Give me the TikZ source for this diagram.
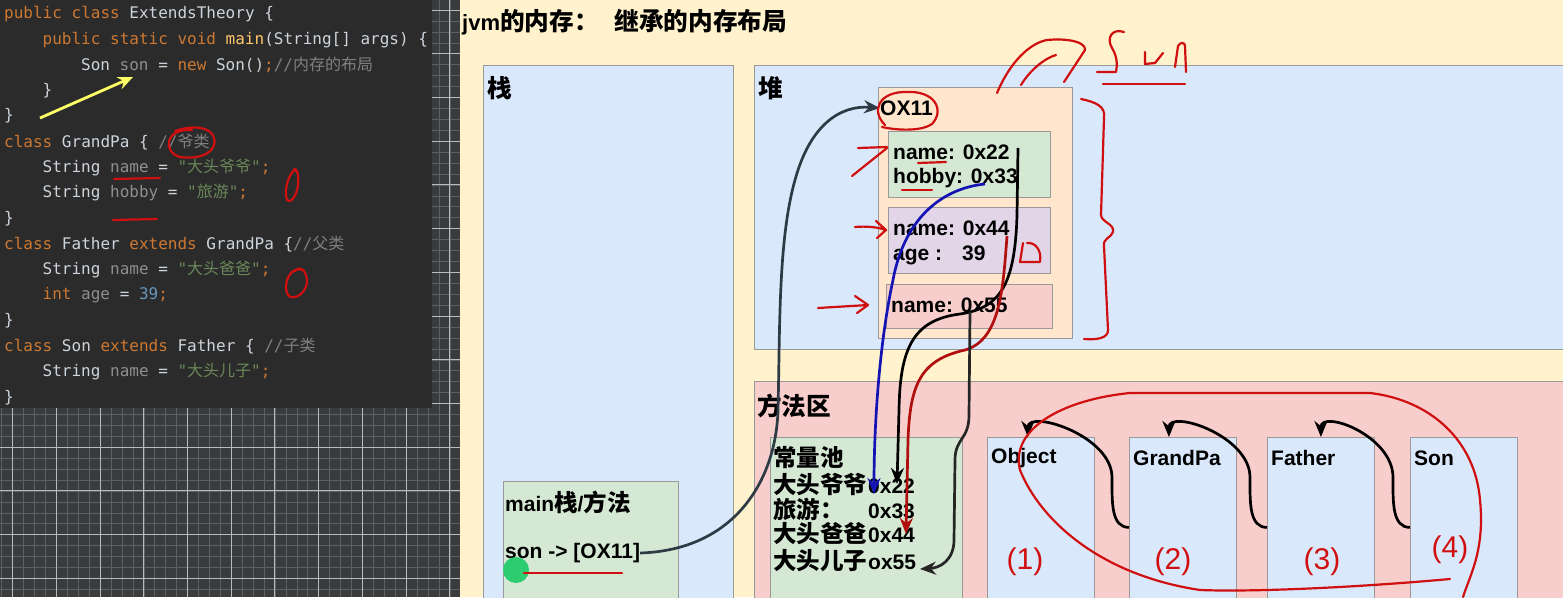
\documentclass[tikz,border=0pt]{standalone}
\usepackage{fontspec}
\setmainfont{Liberation Sans}
\setmonofont{DejaVu Sans Mono}
\newfontfamily\cjk[Scale=1.12]{Noto Sans CJK SC}
\newfontfamily\cjkcode{Noto Sans CJK SC}
\usepackage{xcolor}
\usetikzlibrary{arrows.meta,positioning}

\definecolor{codebg}{HTML}{2B2B2B}
\definecolor{gridbg}{HTML}{3A3B3D}
\definecolor{gridminor}{HTML}{5E6063}
\definecolor{gridmajor}{HTML}{B8BABC}
\definecolor{jplain}{HTML}{CDD4DB}
\definecolor{jkwc}{HTML}{CC7832}
\definecolor{jfldc}{HTML}{8E8E8E}
\definecolor{jfnc}{HTML}{FFC66D}
\definecolor{jstrc}{HTML}{6A8759}
\definecolor{jcmtc}{HTML}{808080}
\definecolor{jnumc}{HTML}{6897BB}
\definecolor{yellowR}{HTML}{FFF2CC}
\definecolor{blueR}{HTML}{DAE8FC}
\definecolor{pinkR}{HTML}{F8CECC}
\definecolor{orangeR}{HTML}{FFE6CC}
\definecolor{greenR}{HTML}{D5E8D4}
\definecolor{purpleR}{HTML}{E1D5E7}
\definecolor{slate}{HTML}{2E3A44}
\definecolor{ink}{HTML}{D01010}
\definecolor{inkblue}{HTML}{1414B4}
\definecolor{penyellow}{HTML}{FFFF66}
\definecolor{dotgreen}{HTML}{2ECC71}

\newcommand{\zh}[1]{{\cjk #1}}
\newcommand{\zc}[1]{{\cjkcode #1}}
\newcommand{\jkw}[1]{\textcolor{jkwc}{#1}}
\newcommand{\jfld}[1]{\textcolor{jfldc}{#1}}
\newcommand{\jfn}[1]{\textcolor{jfnc}{#1}}
\newcommand{\jstr}[1]{\textcolor{jstrc}{#1}}
\newcommand{\jcmt}[1]{\textcolor{jcmtc}{#1}}
\newcommand{\jnum}[1]{\textcolor{jnumc}{#1}}

\begin{document}
\begin{tikzpicture}[x=1pt, y=-1pt,
  region/.style={draw=black!40, line width=0.8pt, anchor=north west, inner sep=0pt},
  lbl/.style={font=\bfseries\fontsize{21}{25}\selectfont, anchor=west, inner sep=0pt},
  head/.style={font=\bfseries\fontsize{22}{26}\selectfont, anchor=west, inner sep=0pt},
  code/.style={font=\ttfamily\fontsize{16}{19}\selectfont, anchor=west, inner sep=0pt, text=jplain},
  link/.style={-{Stealth[length=16pt,width=13pt]}, line width=2.7pt},
  hand/.style={draw=ink, line width=2.2pt, line cap=round, line join=round},
  handtxt/.style={text=ink, font=\fontsize{30}{30}\selectfont, inner sep=0pt}
]
\useasboundingbox (0,0) rectangle (1563,597);

% editor side
\fill[gridbg] (0,0) rectangle (460,597);
\foreach \k in {0,...,42} \draw[gridminor, line width=0.5pt] ({1.67+10.93*\k},0) -- ++(0,597);
\foreach \k in {0,...,54} \draw[gridminor, line width=0.5pt] (0,{10+10.93*\k}) -- ++(460,0);
\foreach \k in {0,...,10} \draw[gridmajor, line width=0.7pt] ({12.6+43.7*\k},0) -- ++(0,597);
\foreach \k in {0,...,13} \draw[gridmajor, line width=0.7pt] (0,{10+43.7*\k}) -- ++(460,0);
\fill[codebg] (0,0) rectangle (432,408);

\node[code] (ln1) at (4,14) {\jkw{public class} ExtendsTheory \{};
\node[code] (ln2) at (42.5,39.6) {\jkw{public static void} \jfn{main}(String[] args) \{};
\node[code] (ln3) at (81,65.1) {Son \jfld{son} = \jkw{new} Son()\jkw{;}\jcmt{//\zc{内存的布局}}};
\node[code] (ln4) at (42.5,90.7) {\}};
\node[code] (ln5) at (4,116.2) {\}};
\node[code] (ln6) at (4,141.8) {\jkw{class} GrandPa \{ \jcmt{//\zc{爷类}}};
\node[code] (ln7) at (42.5,167.3) {String \jfld{name} = \jstr{"\zc{大头爷爷}"}\jkw{;}};
\node[code] (ln8) at (42.5,192.9) {String \jfld{hobby} = \jstr{"\zc{旅游}"}\jkw{;}};
\node[code] (ln9) at (4,218.4) {\}};
\node[code] (ln10) at (4,244) {\jkw{class} Father \jkw{extends} GrandPa \{\jcmt{//\zc{父类}}};
\node[code] (ln11) at (42.5,269.5) {String \jfld{name} = \jstr{"\zc{大头爸爸}"}\jkw{;}};
\node[code] (ln12) at (42.5,295.1) {\jkw{int} \jfld{age} = \jnum{39}\jkw{;}};
\node[code] (ln13) at (4,320.6) {\}};
\node[code] (ln14) at (4,346.2) {\jkw{class} Son \jkw{extends} Father \{ \jcmt{//\zc{子类}}};
\node[code] (ln15) at (42.5,371.8) {String \jfld{name} = \jstr{"\zc{大头儿子}"}\jkw{;}};
\node[code] (ln16) at (4,397.3) {\}};

\coordinate (ytail) at (40,118);
\coordinate (yhead) at (133,77);
\draw[penyellow, line width=2.8pt, -{Stealth[length=15pt,width=13pt]}] (ytail) -- (yhead);

% marks on the code
\draw[hand] (192,130) .. controls (165,128) and (162,152) .. (180,157) .. controls (200,160) and (218,152) .. (214,138) .. controls (212,128) and (195,124) .. (175,131);
\draw[hand] (114,179) -- (160,178);
\draw[hand] (113,220) -- (157,219);
\draw[hand] (296,170) .. controls (290,170) and (283,190) .. (287,200) .. controls (292,205) and (300,190) .. (298,176) .. controls (297,168) and (294,167) .. (293,172);
\draw[hand] (303,270) .. controls (290,265) and (282,285) .. (288,295) .. controls (294,302) and (308,292) .. (307,280) .. controls (306,268) and (298,266) .. (295,271);

% memory side
\fill[yellowR] (460,0) rectangle (1563,597);
\node[head] (title) at (462,22) {jvm\zh{的内存：}\hspace{16pt}\zh{继承的内存布局}};

\node[region, fill=blueR, minimum width=250pt, minimum height=545pt] (stack) at (483,65) {};
\node[head] (stacklbl) at (487,88) {\zh{栈}};
\node[region, fill=blueR, minimum width=830pt, minimum height=284pt] (heap) at (754,65) {};
\node[head] (heaplbl) at (758,88) {\zh{堆}};
\node[region, fill=pinkR, minimum width=830pt, minimum height=240pt] (method) at (754,381) {};
\node[head] (methodlbl) at (757,406) {\zh{方法区}};

% son object in the heap
\node[region, fill=orangeR, minimum width=194pt, minimum height=251pt] (sonobj) at (878,87) {};
\node[lbl] (oxaddr) at (880,108) {OX11};
\node[region, fill=greenR, minimum width=162pt, minimum height=66pt] (gpart) at (888,131) {};
\node[lbl] (gname) at (893,152) {name: 0x22};
\node[lbl] (ghobby) at (893,178) {hobby: 0x33};
\node[region, fill=purpleR, minimum width=162pt, minimum height=66pt] (fpart) at (888,207) {};
\node[lbl] (fname) at (893,228) {name: 0x44};
\node[lbl] (fage) at (893,255) {\makebox[69pt][l]{age :}39};
\node[region, fill=pinkR, minimum width=166pt, minimum height=44pt] (spart) at (886,284) {};
\node[lbl] (sname) at (891,305) {name: 0x55};

% main frame
\node[region, fill=greenR, minimum width=175pt, minimum height=130pt] (mainframe) at (503,481) {};
\node[lbl] (mainlbl) at (505,502) {main\zh{栈}/\zh{方法}};
\node[lbl] (sonref) at (505,553) {son -> [OX11]};

% constant pool
\node[region, fill=greenR, minimum width=192pt, minimum height=170pt] (pool) at (770,437) {};
\node[lbl] (poollbl) at (773,458) {\zh{常量池}};
\node[lbl] (pgname) at (773,484) {\makebox[95pt][l]{\zh{大头爷爷}}0x22};
\node[lbl] (pghobby) at (773,509) {\makebox[95pt][l]{\zh{旅游：}}0x33};
\node[lbl] (pfname) at (773,534) {\makebox[95pt][l]{\zh{大头爸爸}}0x44};
\node[lbl] (psname) at (773,561) {\makebox[95pt][l]{\zh{大头儿子}}ox55};

% classes
\foreach \n/\x/\t in {objcls/987/Object, gpcls/1129/GrandPa, facls/1267/Father, socls/1410/Son} {
  \node[region, fill=blueR, minimum width=107pt, minimum height=170pt] (\n) at (\x,437) {};
  \node[lbl] (\n lbl) at (\x+4,458) {\t};
}
\foreach \a/\b/\d in {socls/facls/0pt, facls/gpcls/-14pt, gpcls/objcls/-13pt}
  \draw[link] ([yshift=-5pt]\a.west) .. controls +(-18,0) and +(0,25) .. ([xshift=-17pt,yshift=45pt]\a.west)
    .. controls +(0,-42) and +(0,-28) .. ([xshift=\d]\b.north);

% links from the object fields
\coordinate (btail) at (985,184);
\coordinate (bhead) at (874,494);
\coordinate (ctail) at (1018,148);
\coordinate (chead) at (897,484);
\coordinate (dtail) at (1007,236);
\coordinate (dhead) at (906,534);
\coordinate (etail) at (970,312);
\coordinate (ehead) at (920,569);
\draw[link, color=slate] (sonref.east) .. controls (735,550) and (776,480) .. (778,410)
  .. controls (780,330) and (778,240) .. (795,180) .. controls (810,125) and (840,105) .. (oxaddr.west);
\draw[link, color=inkblue] (btail) .. controls (945,188) and (905,215) .. (893,280)
  .. controls (880,340) and (874,420) .. (bhead);
\draw[link, color=black] (ctail) -- (1017,215) .. controls (1015,285) and (1000,308) .. (960,314)
  .. controls (912,320) and (900,350) .. (899,410) -- (chead);
\draw[link, color=ink!85!black] (dtail) .. controls (1003,290) and (1000,340) .. (965,350)
  .. controls (920,360) and (910,385) .. (908,440) -- (dhead);
\draw[link, color=black!85] (etail) -- (969,415) .. controls (969,440) and (955,438) .. (955,460)
  -- (954,540) .. controls (954,560) and (940,568) .. (ehead);

% pen marks
\draw[hand] (885,125) .. controls (870,110) and (880,92) .. (905,92) .. controls (935,90) and (945,110) .. (932,124) .. controls (920,132) and (895,130) .. (882,127);
\draw[hand] (858,148) -- (887,147) (852,176) -- (887,148);
\draw[hand] (855,227) .. controls (865,226) and (878,227) .. (886,230) (876,221) -- (886,230) -- (877,238);
\draw[hand] (818,308) -- (868,305) (855,296) -- (868,305) -- (857,313);
\draw[hand] (918,163) -- (946,162);
\draw[hand] (902,190) -- (932,190);
\draw[hand] (1023,243) -- (1020,262) -- (1040,262) .. controls (1042,250) and (1035,242) .. (1027,243);
\draw[hand] (1081,99) .. controls (1095,102) and (1106,106) .. (1104,118) -- (1101,215)
  .. controls (1101,222) and (1115,224) .. (1113,232) .. controls (1111,238) and (1103,238) .. (1104,246)
  -- (1108,330) .. controls (1108,338) and (1098,340) .. (1084,339);
\draw[hand] (997,93) .. controls (1010,62) and (1030,43) .. (1047,40) .. controls (1068,38) and (1086,42) .. (1085,50) -- (1064,82);
\draw[hand] (1021,85) .. controls (1030,70) and (1045,58) .. (1056,55);
\draw[hand] (1124,32) .. controls (1112,28) and (1106,38) .. (1112,48) .. controls (1118,58) and (1117,66) .. (1116,72) -- (1097,72);
\draw[hand] (1145,52) -- (1145,64) -- (1155,63) -- (1163,53);
\draw[hand] (1175,67) -- (1178,46) .. controls (1180,42) and (1185,42) .. (1185,46) -- (1186,72);
\draw[hand] (1103,84) -- (1185,84);
\draw[hand] (1450,579) .. controls (1350,588) and (1250,592) .. (1200,590) .. controls (1100,575) and (1040,520) .. (1020,470)
  .. controls (1010,430) and (1060,400) .. (1130,393) -- (1370,393) .. controls (1430,400) and (1475,440) .. (1480,500)
  .. controls (1485,550) and (1470,575) .. (1463,597);
\node[handtxt] (num1) at (1025,562) {(1)};
\node[handtxt] (num2) at (1173,562) {(2)};
\node[handtxt] (num3) at (1322,562) {(3)};
\node[handtxt] (num4) at (1450,550) {(4)};
\fill[dotgreen] (516,570) circle (13);
\draw[hand] (524,573) -- (622,573);
\end{tikzpicture}
\end{document}
